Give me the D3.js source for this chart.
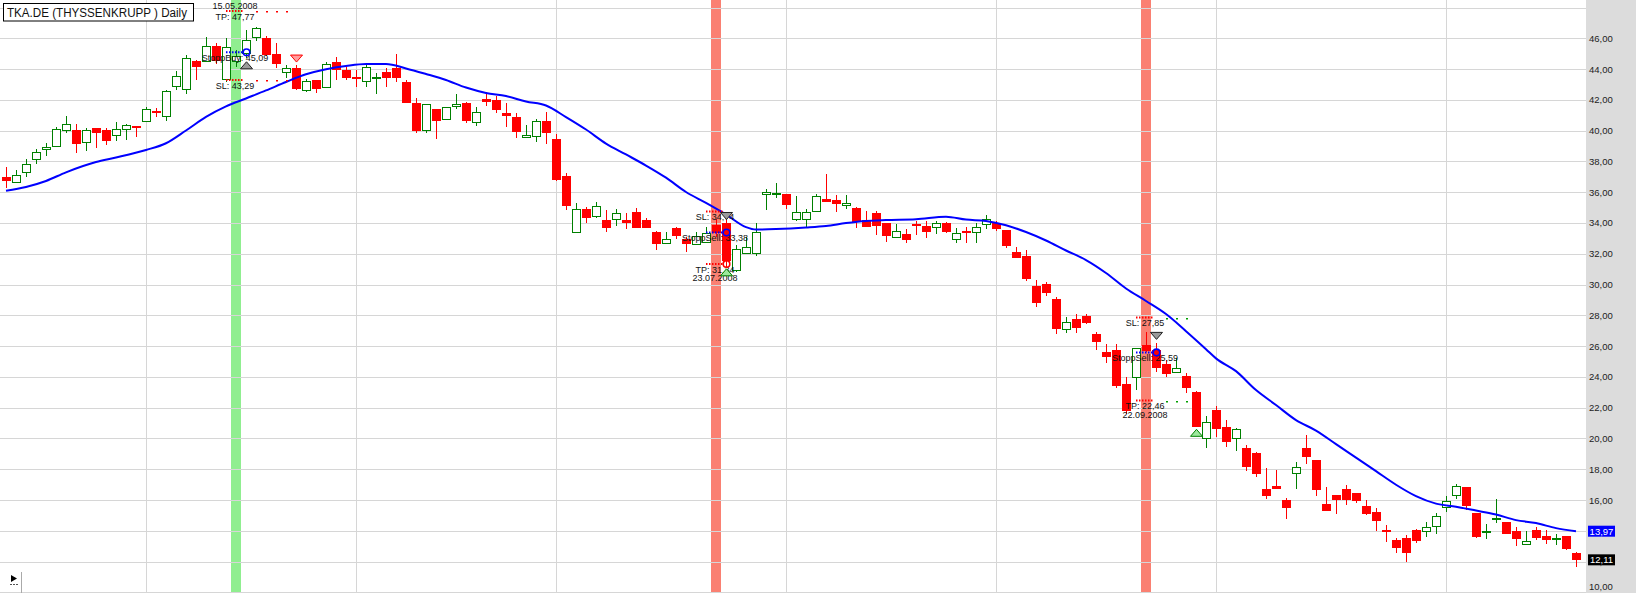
<!DOCTYPE html>
<html>
<head>
<meta charset="utf-8">
<script src="https://cdn.jsdelivr.net/npm/d3@7"></script>
<style>
  body { margin: 0; background: #fff; }
  svg { display: block; font-family: "Liberation Sans", Arial, sans-serif; }
</style>
</head>
<body>
<svg id="chart" width="1639" height="593"></svg>
<script>
// daily candles, 11.04.2008 .. 10.11.2008 (index = trading day)
const open = [
  37.00,36.64,37.29,38.14,38.80,39.02,40.04,40.04,39.28,40.15,
  40.04,39.72,40.09,40.30,40.63,41.28,40.97,42.90,42.69,44.53,
  44.54,45.50,43.34,44.53,45.03,46.10,46.00,44.98,43.79,44.05,
  42.64,43.27,42.85,44.46,43.94,43.47,43.23,43.44,43.79,44.09,
  43.14,41.81,40.04,41.39,40.74,41.60,41.81,40.54,42.06,41.99,
  41.16,40.91,39.57,39.67,40.64,39.46,37.05,33.43,34.90,34.47,
  34.19,34.24,34.19,34.69,34.19,33.39,32.68,33.69,32.94,32.61,
  32.78,33.87,33.97,30.94,32.02,32.02,35.86,35.93,35.88,34.26,
  34.24,34.79,35.55,35.49,35.16,34.99,34.19,34.66,33.97,33.10,
  33.26,33.93,33.80,33.72,34.01,32.98,33.47,33.39,33.93,34.01,
  33.54,32.09,31.85,29.90,30.01,29.06,27.09,27.73,27.95,26.78,
  25.61,25.74,23.53,24.00,26.06,25.74,24.81,24.33,24.05,22.99,
  20.00,21.84,20.72,20.00,19.39,19.02,16.69,16.90,15.99,17.73,
  19.39,18.59,15.73,16.32,16.69,16.43,15.60,15.19,14.04,13.39,
  13.50,14.04,13.99,14.32,15.55,16.32,16.82,15.13,13.95,14.75,
  14.54,13.97,13.17,14.08,13.65,13.52,13.65,12.56];
const high = [
  37.65,37.44,38.14,38.80,39.21,40.25,40.95,40.41,40.15,40.19,
  40.19,40.54,40.40,40.32,41.55,41.45,42.62,43.89,44.92,44.59,
  46.07,45.71,46.04,45.24,46.54,46.75,46.15,45.68,44.26,44.26,
  43.36,43.30,44.48,44.77,44.15,43.94,44.26,43.76,44.05,44.98,
  43.29,42.10,41.72,41.40,41.55,42.36,41.83,41.52,42.49,42.25,
  41.78,41.16,40.37,40.74,41.19,39.78,37.22,35.28,35.05,35.38,
  34.84,34.90,34.66,34.99,34.30,33.47,33.39,33.72,33.10,33.43,
  33.75,34.26,34.24,32.56,33.10,33.97,36.21,36.61,35.90,35.75,
  34.89,35.88,37.18,35.81,35.81,35.05,34.77,34.77,34.00,33.93,
  33.60,34.14,34.14,34.14,34.04,33.65,33.75,33.97,34.51,34.13,
  33.56,32.42,32.24,30.29,30.14,29.20,27.90,28.08,28.08,26.93,
  26.13,26.13,23.97,25.87,26.93,26.19,25.09,25.22,24.26,23.08,
  21.45,22.10,21.19,20.69,19.56,19.09,18.09,17.94,16.10,18.44,
  20.21,18.60,16.85,16.34,16.97,16.45,15.99,15.45,14.36,13.50,
  13.72,14.09,14.54,15.16,16.25,17.03,16.85,15.16,14.41,16.04,
  14.58,14.25,13.97,14.25,14.08,13.78,13.66,12.63];
const low = [
  36.25,36.58,37.00,37.81,38.37,38.95,39.86,38.56,38.69,38.89,
  39.07,39.33,39.39,39.57,40.54,40.87,40.64,42.64,42.38,43.29,
  44.48,44.33,43.18,44.13,44.72,45.84,44.88,44.09,43.40,42.65,
  42.53,42.43,42.75,43.29,43.29,42.85,42.85,42.36,42.85,43.18,
  41.78,39.86,39.83,39.47,40.72,41.39,40.51,40.32,41.62,41.16,
  40.25,39.54,39.50,39.28,39.13,36.75,34.84,33.40,34.01,34.34,
  33.39,33.82,33.58,33.66,33.66,32.24,32.65,32.95,32.13,32.58,
  32.75,33.10,31.15,30.83,31.99,31.87,34.84,35.60,34.89,34.13,
  33.75,34.69,35.36,34.73,34.89,33.65,33.72,33.22,32.78,33.00,
  32.71,33.22,33.00,33.26,33.33,32.68,32.71,32.71,33.60,33.49,
  32.39,31.72,30.22,28.55,29.27,26.76,26.82,26.82,27.45,25.74,
  24.87,23.29,21.58,23.14,25.63,24.33,23.97,24.30,22.96,20.72,
  19.39,20.10,19.42,19.19,17.90,17.50,16.05,16.70,14.75,16.69,
  18.33,16.27,15.26,15.08,15.67,15.82,15.01,13.99,13.28,12.56,
  11.98,13.21,13.60,13.78,15.23,16.05,15.34,13.56,13.45,14.51,
  13.76,12.98,13.15,13.39,13.13,13.06,12.74,11.62];
const close = [
  36.72,37.12,37.81,38.59,38.95,40.09,40.41,39.11,40.04,39.86,
  39.34,40.09,40.35,40.19,41.39,41.19,42.58,43.57,44.70,44.15,
  45.50,44.53,45.42,44.85,45.89,46.67,44.92,44.33,44.05,42.69,
  43.23,42.69,44.31,43.94,43.44,43.40,44.15,43.47,43.44,43.44,
  41.81,39.99,41.71,40.64,41.52,41.71,40.63,41.19,41.88,41.34,
  40.97,39.89,39.70,40.64,39.86,36.79,35.12,34.89,34.34,35.10,
  33.69,34.63,33.97,33.69,33.69,32.63,32.94,33.17,32.61,33.17,
  33.33,33.33,31.54,32.29,32.42,33.39,35.99,35.97,35.16,34.69,
  34.69,35.75,35.38,35.21,35.31,34.08,33.75,33.82,33.17,33.47,
  32.89,33.85,33.43,34.01,33.39,33.33,33.41,33.72,34.24,33.60,
  32.52,31.74,30.34,28.81,29.46,27.11,27.54,27.19,27.48,26.24,
  25.30,23.42,21.79,25.85,25.69,24.59,24.18,24.55,23.29,20.75,
  21.04,20.61,19.78,20.61,18.15,17.68,16.27,16.72,15.49,18.12,
  18.80,16.64,15.28,15.99,15.99,15.95,15.08,14.64,13.93,12.89,
  12.56,13.34,14.25,14.97,15.94,16.90,15.60,13.60,13.99,14.80,
  13.78,13.45,13.32,13.54,13.39,13.56,12.80,12.11];

// moving average
const maIdx = [0,2,4,6,9,11,14,16,18,20,22,24,26,28,30,32,34,36,38,40,
  42,44,46,48,50,52,54,56,58,60,62,64,66,68,70,72,74,75,77,80,
  82,84,86,88,91,94,96,98,100,102,104,106,108,110,112,114,116,118,120,121,
  123,125,127,129,131,133,135,137,139,141,143,145,147,149,151,153,155,157];
const maVal = [36.09,36.34,36.73,37.29,37.96,38.25,38.74,39.18,40.01,40.89,
  41.57,42.09,42.61,43.16,43.66,43.99,44.20,44.33,44.33,44.04,
  43.68,43.29,42.80,42.45,42.25,41.89,41.63,40.88,40.07,39.16,
  38.45,37.73,36.94,36.01,35.30,34.55,33.73,33.57,33.60,33.70,
  33.80,33.99,34.13,34.19,34.24,34.41,34.22,34.13,33.85,33.41,
  32.86,32.21,31.59,30.75,29.74,28.93,28.08,26.97,25.80,25.20,
  24.37,23.14,22.17,21.19,20.51,19.63,18.75,17.87,16.99,16.25,
  15.76,15.56,15.31,15.05,14.69,14.50,14.17,13.97];

const monthStartIdx = [14, 35, 55, 78, 99, 121, 144];
const yTicks = [10,12,14,16,18,20,22,24,26,28,30,32,34,36,38,40,42,44,46];
const yGrid = [10,12,14,16,18,20,22,24,26,28,30,32,34,36,38,40,42,44,46,48];

// trades
const tradeBandIdx = [23, 71, 114];
const tradeEntryIdx = [24, 72, 115];
const tradeExitIdx = [29, 72, 119];
const tradeSide = ["buy", "sell", "sell"];
const tradeDate = ["15.05.2008", "23.07.2008", "22.09.2008"];
const tradeEntry = [45.09, 33.38, 25.59];
const tradeSL = [43.29, 34.74, 27.85];
const tradeTP = [47.77, 31.34, 22.46];
const tradeTpHit = [false, true, false];

const title = "TKA.DE (THYSSENKRUPP ) Daily";
const lastLabels = [{v: 13.97, bg: "#0000ff"}, {v: 12.11, bg: "#000000"}];

const svg = d3.select("#chart");
const plotRight = 1586;

const x = d3.scaleLinear().domain([0, 157]).range([6, 1576]);
const y = d3.scaleLinear().domain([10, 48]).range([592.3, 7.5]);
const fmt = v => d3.format(".2f")(v).replace(".", ",");

// axis panel
svg.append("rect").attr("x", plotRight).attr("y", 0).attr("width", 50).attr("height", 593).attr("fill", "#dcdcdc");

// signal bands
svg.append("g").selectAll("rect")
  .data(tradeBandIdx)
  .join("rect")
    .attr("x", d => x(d) - 5)
    .attr("y", 0)
    .attr("width", 10)
    .attr("height", 593)
    .attr("fill", (d, i) => tradeSide[i] === "buy" ? "#90ee90" : "#fa8072");

// grid
const grid = svg.append("g").attr("stroke", "#d6d6d6").attr("stroke-width", 1);
grid.selectAll("line.h")
  .data(yGrid)
  .join("line")
    .attr("class", "h")
    .attr("x1", 0).attr("x2", plotRight)
    .attr("y1", d => Math.round(y(d)) + 0.5)
    .attr("y2", d => Math.round(y(d)) + 0.5);
grid.selectAll("line.v")
  .data(monthStartIdx)
  .join("line")
    .attr("class", "v")
    .attr("x1", d => x(d) + 0.5).attr("x2", d => x(d) + 0.5)
    .attr("y1", 0).attr("y2", 593);

// candles
const candles = d3.range(open.length).map(i => ({
  i, o: open[i], h: high[i], l: low[i], c: close[i], up: close[i] >= open[i]
}));
const cg = svg.append("g");
cg.selectAll("line")
  .data(candles)
  .join("line")
    .attr("x1", d => x(d.i) + 0.5).attr("x2", d => x(d.i) + 0.5)
    .attr("y1", d => Math.round(y(d.h)))
    .attr("y2", d => Math.round(y(d.l)))
    .attr("stroke", d => d.up ? "#008000" : "#ff0000")
    .attr("stroke-width", 1);
cg.selectAll("rect")
  .data(candles)
  .join("rect")
    .attr("x", d => d.up ? x(d.i) - 3.5 : x(d.i) - 4)
    .attr("width", d => d.up ? 8 : 9)
    .attr("y", d => d.up ? Math.round(y(d.c)) + 0.5 : Math.round(y(d.o)))
    .attr("height", d => {
      const hgt = Math.round(y(Math.min(d.o, d.c))) - Math.round(y(Math.max(d.o, d.c)));
      return d.up ? Math.max(1, hgt) : Math.max(2, hgt);
    })
    .attr("fill", d => d.up ? "#ffffff" : "#ff0000")
    .attr("stroke", d => d.up ? "#008000" : "none")
    .attr("stroke-width", 1);

// moving average
const maLine = d3.line()
  .x(d => x(d[0]))
  .y(d => y(d[1]))
  .curve(d3.curveMonotoneX);
svg.append("path")
  .datum(d3.zip(maIdx, maVal))
  .attr("d", maLine)
  .attr("fill", "none")
  .attr("stroke", "#0000ff")
  .attr("stroke-width", 2);

// trade annotations
const ann = svg.append("g").attr("font-size", 9).attr("fill", "#111");
tradeBandIdx.forEach((b, k) => {
  const buy = tradeSide[k] === "buy";
  const xs = x(b) - 10, xe = x(tradeEntryIdx[k]) - 3;
  const xc = x(b) - 1;
  const ex = x(tradeEntryIdx[k]);
  const dotCol = buy ? "#ff0000" : "#00a000";

  // dotted levels
  [[tradeTP[k], "#ff0000"], [tradeSL[k], "#ff0000"], [tradeEntry[k], "#0000ff"]].forEach(([v, col]) => {
    ann.append("line")
      .attr("x1", xs).attr("x2", xe)
      .attr("y1", y(v)).attr("y2", y(v))
      .attr("stroke", col).attr("stroke-width", 2)
      .attr("stroke-dasharray", "1.5,1.5");
  });
  // sparse level dots while in trade
  d3.range(tradeEntryIdx[k] + 1, tradeExitIdx[k]).forEach(j => {
    [tradeTP[k], tradeSL[k]].forEach(v => {
      ann.append("rect")
        .attr("x", x(j)).attr("y", Math.round(y(v)))
        .attr("width", 2).attr("height", 1.5)
        .attr("fill", dotCol);
    });
  });

  // texts
  const label = (txt, yy) => ann.append("text")
    .attr("x", xc).attr("y", yy).attr("dy", "0.35em")
    .attr("text-anchor", "middle").text(txt);
  label("TP: " + fmt(tradeTP[k]), y(tradeTP[k]) + 5.5);
  label("SL: " + fmt(tradeSL[k]), y(tradeSL[k]) + 5.5);
  label((buy ? "StoppBuy: " : "StoppSell: ") + fmt(tradeEntry[k]), y(tradeEntry[k]) + 5.5);
  label(tradeDate[k], buy ? y(tradeTP[k]) - 5.5 : y(tradeTP[k]) + 14);

  // entry circle and signal triangle
  ann.append("circle")
    .attr("cx", ex + 0.5).attr("cy", y(tradeEntry[k]))
    .attr("r", 3.3)
    .attr("fill", "none").attr("stroke", "#0000ff").attr("stroke-width", 1.6);
  const ty = buy ? y(tradeEntry[k]) + 9.5 : y(tradeEntry[k]) - 13;
  ann.append("path")
    .attr("d", buy
      ? `M${ex + 0.5},${ty} L${ex + 6.5},${ty + 7} L${ex - 5.5},${ty + 7} Z`
      : `M${ex + 0.5},${ty} L${ex + 6.5},${ty - 7} L${ex - 5.5},${ty - 7} Z`)
    .attr("fill", "#9a9a9a").attr("stroke", "#222").attr("stroke-width", 1);

  if (tradeTpHit[k]) {
    ann.append("circle")
      .attr("cx", ex + 0.5).attr("cy", y(tradeTP[k]))
      .attr("r", 3.3)
      .attr("fill", "none").attr("stroke", "#ff0000").attr("stroke-width", 1.6);
  }

  // exit marker
  const xx = x(tradeExitIdx[k]) + 0.5;
  const ey = buy ? y(high[tradeExitIdx[k]]) - 3 : y(low[tradeExitIdx[k]]) + 2;
  ann.append("path")
    .attr("d", buy
      ? `M${xx},${ey} L${xx + 6},${ey - 7} L${xx - 6},${ey - 7} Z`
      : `M${xx},${ey} L${xx + 6},${ey + 7} L${xx - 6},${ey + 7} Z`)
    .attr("fill", buy ? "#ff9c9c" : "#9de89d")
    .attr("stroke", buy ? "#ff0000" : "#008000").attr("stroke-width", 1);
});

// price axis
const axis = svg.append("g")
  .attr("transform", `translate(${plotRight},0)`)
  .call(d3.axisRight(y).tickValues(yTicks).tickSize(0).tickPadding(3).tickFormat(fmt));
axis.select(".domain").remove();
axis.selectAll("text")
  .attr("font-family", "Liberation Sans, Arial, sans-serif")
  .attr("font-size", 9.5)
  .attr("fill", "#222");
// bottom label would be clipped by the frame edge, lift it a little
axis.selectAll(".tick").filter(d => d === 10).select("text").attr("dy", "-0.25em");

// last value boxes
const lv = svg.append("g").selectAll("g")
  .data(lastLabels)
  .join("g")
    .attr("transform", d => `translate(1588,${y(d.v)})`);
lv.append("rect")
  .attr("x", 0).attr("y", -5.5)
  .attr("width", 27).attr("height", 11)
  .attr("fill", d => d.bg);
lv.append("text")
  .attr("x", 13.5).attr("dy", "0.35em")
  .attr("text-anchor", "middle")
  .attr("font-size", 9.5)
  .attr("fill", "#fff")
  .text(d => fmt(d.v));

// title box
svg.append("rect")
  .attr("x", 3.5).attr("y", 3.5)
  .attr("width", 190).attr("height", 17.5)
  .attr("fill", "#fff").attr("stroke", "#000").attr("stroke-width", 1);
svg.append("text")
  .attr("x", 7).attr("y", 16.5)
  .attr("font-size", 12)
  .attr("textLength", 180).attr("lengthAdjust", "spacingAndGlyphs")
  .attr("fill", "#111")
  .text(title);

// little scroll widget bottom-left
svg.append("path").attr("d", "M11,575 L17,578.5 L11,582 Z").attr("fill", "#000");
svg.append("line").attr("x1", 10).attr("x2", 18).attr("y1", 584.5).attr("y2", 584.5)
  .attr("stroke", "#555").attr("stroke-dasharray", "2,1");
svg.append("line").attr("x1", 21.5).attr("x2", 21.5).attr("y1", 572).attr("y2", 593)
  .attr("stroke", "#aaa");
</script>
</body>
</html>
